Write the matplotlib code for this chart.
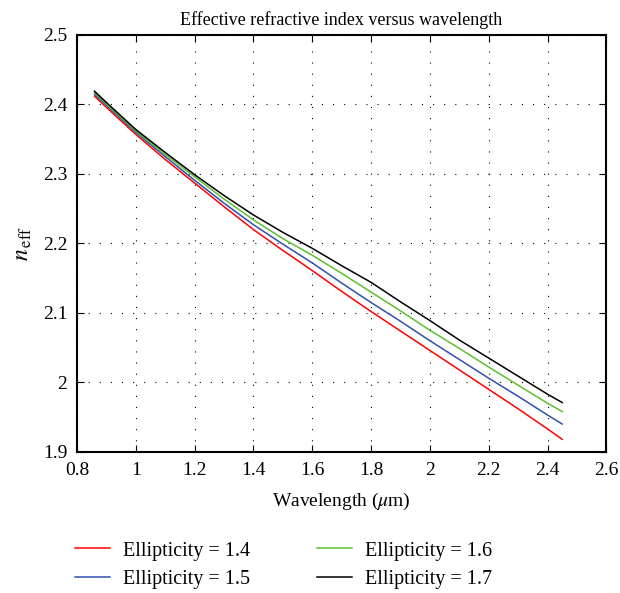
import numpy as np
import matplotlib
matplotlib.use("Agg")
import matplotlib.pyplot as plt

plt.rcParams["font.family"] = "Liberation Serif"
plt.rcParams["mathtext.fontset"] = "stix"

# Wavelength (um) and effective index for each ellipticity
wavelength = [0.86, 0.9, 1.0, 1.1, 1.2, 1.3, 1.4, 1.5, 1.6, 1.7, 1.8, 1.9, 2.0, 2.1, 2.2, 2.3, 2.4, 2.45]
n_e14 = [2.412, 2.396, 2.357, 2.321, 2.287, 2.253, 2.220, 2.190, 2.161, 2.131, 2.102, 2.074, 2.046, 2.018, 1.990, 1.962, 1.933, 1.918]
n_e15 = [2.415, 2.399, 2.360, 2.325, 2.291, 2.258, 2.227, 2.199, 2.172, 2.143, 2.115, 2.088, 2.060, 2.033, 2.006, 1.980, 1.953, 1.940]
n_e16 = [2.417, 2.401, 2.362, 2.328, 2.296, 2.264, 2.234, 2.207, 2.183, 2.157, 2.130, 2.103, 2.075, 2.049, 2.022, 1.996, 1.970, 1.958]
n_e17 = [2.419, 2.403, 2.364, 2.331, 2.299, 2.269, 2.241, 2.216, 2.193, 2.168, 2.144, 2.116, 2.089, 2.061, 2.035, 2.009, 1.983, 1.971]

labels = ["Ellipticity = 1.4", "Ellipticity = 1.5", "Ellipticity = 1.6", "Ellipticity = 1.7"]
colors = ["#ff0000", "#3050b0", "#5cc030", "#000000"]
x_ticks = [0.8, 1, 1.2, 1.4, 1.6, 1.8, 2, 2.2, 2.4, 2.6]
y_ticks = [1.9, 2, 2.1, 2.2, 2.3, 2.4, 2.5]

fig = plt.figure(figsize=(6.2, 5.93), dpi=100)
ax = fig.add_axes([0.124, 0.238, 0.854, 0.703])

for n, lab, c in zip([n_e14, n_e15, n_e16, n_e17], labels, colors):
    ax.plot(wavelength, n, color=c, lw=1.1, label=lab)

ax.set_xlim(0.8, 2.6)
ax.set_ylim(1.9, 2.5)
ax.set_xticks(x_ticks)
ax.set_xticklabels([str(t) for t in x_ticks])
ax.set_yticks(y_ticks)
ax.set_yticklabels([str(t) for t in y_ticks])
ax.tick_params(direction="in", top=True, right=True, labelsize=14, length=5, pad=7)
ax.grid(True, color="black", linestyle=(0, (1, 9)), linewidth=0.8)
for s in ax.spines.values():
    s.set_linewidth(1.5)

ax.set_title("Effective refractive index versus wavelength", fontsize=13, pad=7)
ax.set_xlabel(r"Wavelength ($\mu$m)", fontsize=14, labelpad=9)
ax.set_ylabel(r"$n_{\,\rm eff}$", fontsize=17, labelpad=6)

fig.legend(loc="upper left", bbox_to_anchor=(0.121, 0.087), ncol=2, frameon=False,
           fontsize=14.5, handlelength=1.75, handletextpad=0.65, columnspacing=3.3,
           labelspacing=0.45, borderpad=0, borderaxespad=0)

fig.savefig("out.png", dpi=100)
